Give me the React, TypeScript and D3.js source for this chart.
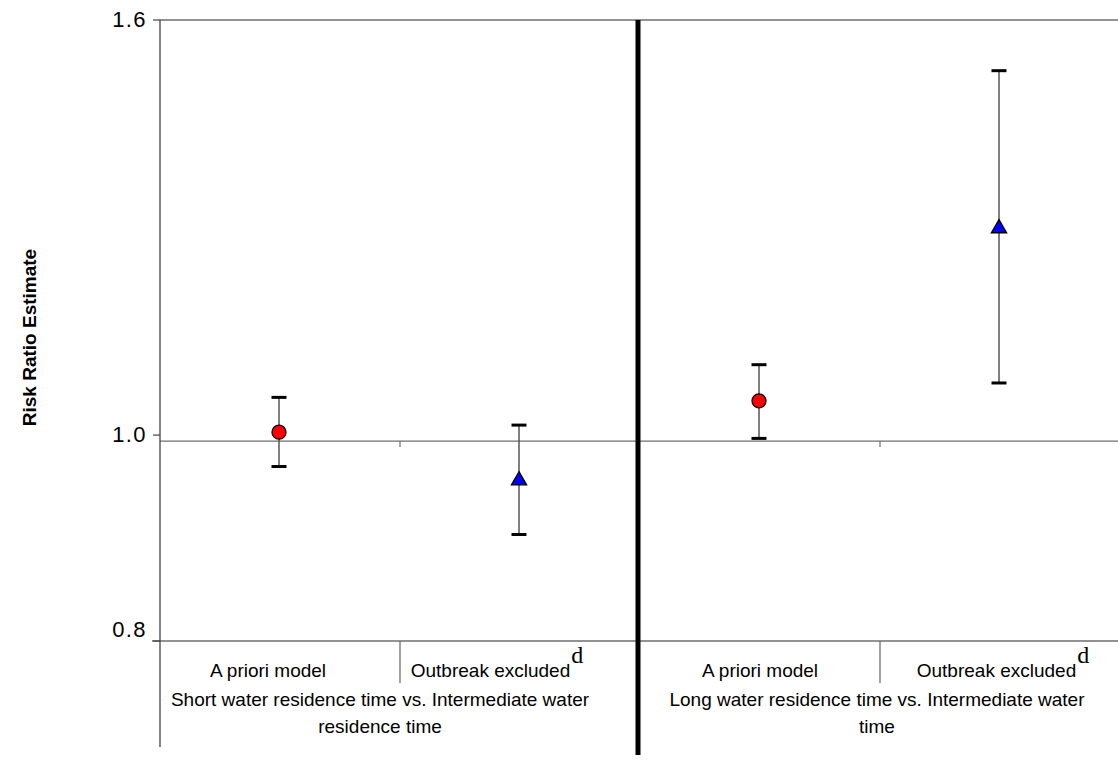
import React from "react";
import * as d3 from "d3";

// Risk ratio estimates with 95% confidence limits
const models = ["A priori model", "Outbreak excluded", "A priori model", "Outbreak excluded"];
const superscripts = ["", "d", "", "d"];
const comparisons = [
  ["Short water residence time vs. Intermediate water", "residence time"],
  ["Long water residence time vs. Intermediate water", "time"],
];
const estimates = [1.01, 0.957, 1.046, 1.268];
const lowerCI = [0.972, 0.901, 1.003, 1.067];
const upperCI = [1.05, 1.018, 1.089, 1.512];
const markerKinds = ["circle", "triangle", "circle", "triangle"];
const yTicks = [0.8, 1.0, 1.6];

const W = 1118;
const H = 761;
const plot = { left: 160, right: 1120, top: 20, bottom: 641 };

// horizontal nudges for the category labels
const modelLabelShift = [-12, -23, 0, 3];
const groupLabelShift = [-20, -3];

const AXIS = "#6e6e6e";
const SANS = "Arial, 'Liberation Sans', Helvetica, sans-serif";
const SERIF = "'Times New Roman', 'Liberation Serif', serif";

export default function App() {
  const y = d3.scaleLog().domain([0.8, 1.6]).range([plot.bottom, plot.top]);
  const x = d3
    .scaleBand<number>()
    .domain(d3.range(models.length))
    .range([plot.left, plot.right])
    .padding(0);
  const bw = x.bandwidth();
  const cx = (i: number) => (x(i) as number) + bw / 2;
  const tri = d3.symbol().type(d3.symbolTriangle).size(100)();
  const y1 = y(1.0);
  const groupCenter = (g: number) => (x(g * 2) as number) + bw;
  const sepX = (x(2) as number) - 2;

  return (
    <svg
      width={W}
      height={H}
      style={{ position: "absolute", left: 0, top: 0, background: "#fff" }}
      fontFamily={SANS}
    >
      {/* frame and reference lines */}
      <line x1={plot.left} x2={W} y1={plot.top} y2={plot.top} stroke={AXIS} strokeWidth={1.3} />
      <line x1={plot.left} x2={W} y1={y1} y2={y1} stroke={AXIS} strokeWidth={1.3} />
      <line x1={152} x2={W} y1={plot.bottom} y2={plot.bottom} stroke={AXIS} strokeWidth={1.3} />
      <line x1={plot.left} x2={plot.left} y1={plot.top} y2={747} stroke="#444" strokeWidth={1.3} />

      {/* y ticks and labels */}
      {yTicks.map((t) => {
        const yy = t === 1.0 ? y(t) - 6 : y(t);
        return (
          <g key={t}>
            <line x1={153} x2={plot.left} y1={yy} y2={yy} stroke="#444" strokeWidth={1.2} />
            <text
              x={147}
              y={t === 0.8 ? yy - 12 : yy - 1}
              dy="0.35em"
              textAnchor="end"
              fontSize={22}
              letterSpacing={1.4}
              fill="#000"
            >
              {d3.format(".1f")(t)}
            </text>
          </g>
        );
      })}

      {/* category dividers */}
      {[1, 3].map((i) => (
        <g key={i}>
          <line x1={x(i)} x2={x(i)} y1={y1} y2={y1 + 6} stroke={AXIS} strokeWidth={1.2} />
          <line x1={x(i)} x2={x(i)} y1={plot.bottom} y2={683} stroke={AXIS} strokeWidth={1.3} />
        </g>
      ))}

      {/* error bars and point estimates */}
      {estimates.map((est, i) => {
        const px = cx(i) - 1;
        return (
          <g key={i}>
            <line x1={px} x2={px} y1={y(upperCI[i])} y2={y(lowerCI[i])} stroke="#555" strokeWidth={1.5} />
            <line x1={px - 7.5} x2={px + 7.5} y1={y(upperCI[i])} y2={y(upperCI[i])} stroke="#000" strokeWidth={3} />
            <line x1={px - 7.5} x2={px + 7.5} y1={y(lowerCI[i])} y2={y(lowerCI[i])} stroke="#000" strokeWidth={3} />
            {markerKinds[i] === "circle" ? (
              <circle cx={px} cy={y(est)} r={7} fill="#ff0000" stroke="#000" strokeWidth={1.3} />
            ) : (
              <path
                d={tri as string}
                transform={`translate(${px},${y(est)})`}
                fill="#0000ff"
                stroke="#000"
                strokeWidth={1.3}
              />
            )}
          </g>
        );
      })}

      {/* comparison separator */}
      <line x1={sepX} x2={sepX} y1={plot.top} y2={755} stroke="#000" strokeWidth={5} />

      {/* model labels */}
      {models.map((m, i) => (
        <text key={i} x={cx(i) + modelLabelShift[i]} y={677} textAnchor="middle" fontSize={19} fill="#000">
          {m}
          {superscripts[i] && (
            <tspan fontFamily={SERIF} fontSize={24} dy={-14} dx={1}>
              {superscripts[i]}
            </tspan>
          )}
        </text>
      ))}

      {/* comparison labels */}
      {comparisons.map((lines, g) => (
        <text key={g} textAnchor="middle" fontSize={19} fill="#000">
          {lines.map((ln, k) => (
            <tspan key={k} x={groupCenter(g) + groupLabelShift[g]} y={706 + k * 27}>
              {ln}
            </tspan>
          ))}
        </text>
      ))}

      {/* y axis title */}
      <text
        transform={`translate(36,${(plot.top + plot.bottom) / 2 + 7}) rotate(-90)`}
        textAnchor="middle"
        fontSize={19}
        fontWeight="bold"
        fill="#000"
      >
        Risk Ratio Estimate
      </text>
    </svg>
  );
}
